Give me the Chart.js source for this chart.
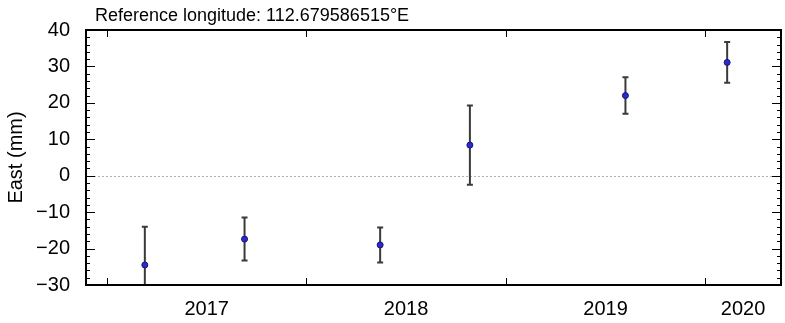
<!DOCTYPE html>
<html>
<head>
<meta charset="utf-8">
<script src="https://cdn.jsdelivr.net/npm/chart.js@4"></script>
<style>
  body { margin: 0; background: #fff; }
  #wrap { width: 785px; height: 323px; }
</style>
</head>
<body>
<div id="wrap"><canvas id="east" width="785" height="323"></canvas></div>
<script>
// epochs (decimal year), east offsets and 1-sigma errors (mm)
const epochs = [2017.19, 2017.69, 2018.37, 2018.82, 2019.60, 2020.11];
const eastValues = [-24.5, -17.4, -19.0, 8.4, 22.0, 31.1];
const eastErrors = [10.5, 5.9, 4.8, 10.9, 5.0, 5.6];
const yearTicks = [2017, 2018, 2019, 2020];
const yearLabelPos = [2017.5, 2018.5, 2019.5, 2020.19];
const titleText = 'Reference longitude: 112.679586515°E';

const FONT = '"Liberation Sans", Arial, Helvetica, sans-serif';

// frame, inward ticks, zero line, error bars and the title above the plot
const gmtStyle = {
    id: 'gmtStyle',
    beforeDatasetsDraw(chart) {
        const { ctx, chartArea: a, scales: { x, y } } = chart;
        ctx.save();
        ctx.beginPath();
        ctx.rect(a.left, a.top, a.right - a.left, a.bottom - a.top);
        ctx.clip();

        // zero line
        ctx.strokeStyle = '#b0b0b0';
        ctx.lineWidth = 1;
        ctx.setLineDash([2, 2]);
        const y0 = Math.round(y.getPixelForValue(0)) + 0.5;
        ctx.beginPath();
        ctx.moveTo(a.left, y0);
        ctx.lineTo(a.right, y0);
        ctx.stroke();
        ctx.setLineDash([]);

        // error bars
        ctx.strokeStyle = '#3a3a3a';
        ctx.lineWidth = 2;
        epochs.forEach((t, i) => {
            const px = x.getPixelForValue(t);
            const top = y.getPixelForValue(eastValues[i] + eastErrors[i]);
            const bot = y.getPixelForValue(eastValues[i] - eastErrors[i]);
            ctx.beginPath();
            ctx.moveTo(px, top);
            ctx.lineTo(px, bot);
            ctx.moveTo(px - 3, top);
            ctx.lineTo(px + 3, top);
            ctx.moveTo(px - 3, bot);
            ctx.lineTo(px + 3, bot);
            ctx.stroke();
        });
        ctx.restore();
    },
    afterDraw(chart) {
        const { ctx, chartArea: a, scales: { x, y } } = chart;
        ctx.save();
        ctx.strokeStyle = '#000';

        // inward ticks
        ctx.lineWidth = 1;
        ctx.beginPath();
        yearTicks.forEach(t => {
            const px = Math.round(x.getPixelForValue(t)) + 0.5;
            ctx.moveTo(px, a.bottom);
            ctx.lineTo(px, a.bottom - 7);
            ctx.moveTo(px, a.top);
            ctx.lineTo(px, a.top + 7);
        });
        for (let v = -30; v <= 40; v += 2) {
            const py = Math.round(y.getPixelForValue(v)) + 0.5;
            const len = v % 10 === 0 ? 9 : 4;
            ctx.moveTo(a.left, py);
            ctx.lineTo(a.left + len, py);
            ctx.moveTo(a.right, py);
            ctx.lineTo(a.right - len, py);
        }
        ctx.stroke();

        // frame
        ctx.lineWidth = 2;
        ctx.strokeRect(a.left, a.top, a.right - a.left, a.bottom - a.top);

        // title
        ctx.fillStyle = '#000';
        ctx.font = '18px ' + FONT;
        ctx.textBaseline = 'alphabetic';
        ctx.textAlign = 'left';
        ctx.fillText(titleText, 95, 21);
        ctx.restore();
    }
};

new Chart(document.getElementById('east'), {
    type: 'scatter',
    data: {
        datasets: [{
            label: 'East',
            data: epochs.map((t, i) => ({ x: t, y: eastValues[i] })),
            backgroundColor: '#2a2ad0',
            borderColor: '#14147a',
            borderWidth: 1,
            pointRadius: 3,
            pointHoverRadius: 3
        }]
    },
    options: {
        responsive: false,
        animation: false,
        layout: { padding: { left: 0, right: 3, top: 30, bottom: 0 } },
        plugins: {
            legend: { display: false },
            tooltip: { enabled: false }
        },
        scales: {
            x: {
                type: 'linear',
                min: 2016.895,
                max: 2020.38,
                grid: { display: false, drawTicks: false },
                border: { display: false },
                afterBuildTicks: (s) => { s.ticks = yearLabelPos.map(v => ({ value: v })); },
                afterFit: (s) => { s.height = 38; },
                ticks: {
                    autoSkip: false,
                    maxRotation: 0,
                    padding: 12,
                    color: '#000',
                    font: { family: FONT, size: 20 },
                    callback: (v) => String(Math.floor(v))
                }
            },
            y: {
                min: -30,
                max: 40,
                grid: { display: false, drawTicks: false },
                border: { display: false },
                afterFit: (s) => { s.width = 86; },
                ticks: {
                    stepSize: 10,
                    padding: 16,
                    color: '#000',
                    font: { family: FONT, size: 20 },
                    callback: (v) => String(v).replace('-', '\u2212')
                },
                title: {
                    display: true,
                    text: 'East (mm)',
                    color: '#000',
                    font: { family: FONT, size: 20 },
                    padding: { top: 4, bottom: 0 }
                }
            }
        }
    },
    plugins: [gmtStyle]
});
</script>
</body>
</html>
